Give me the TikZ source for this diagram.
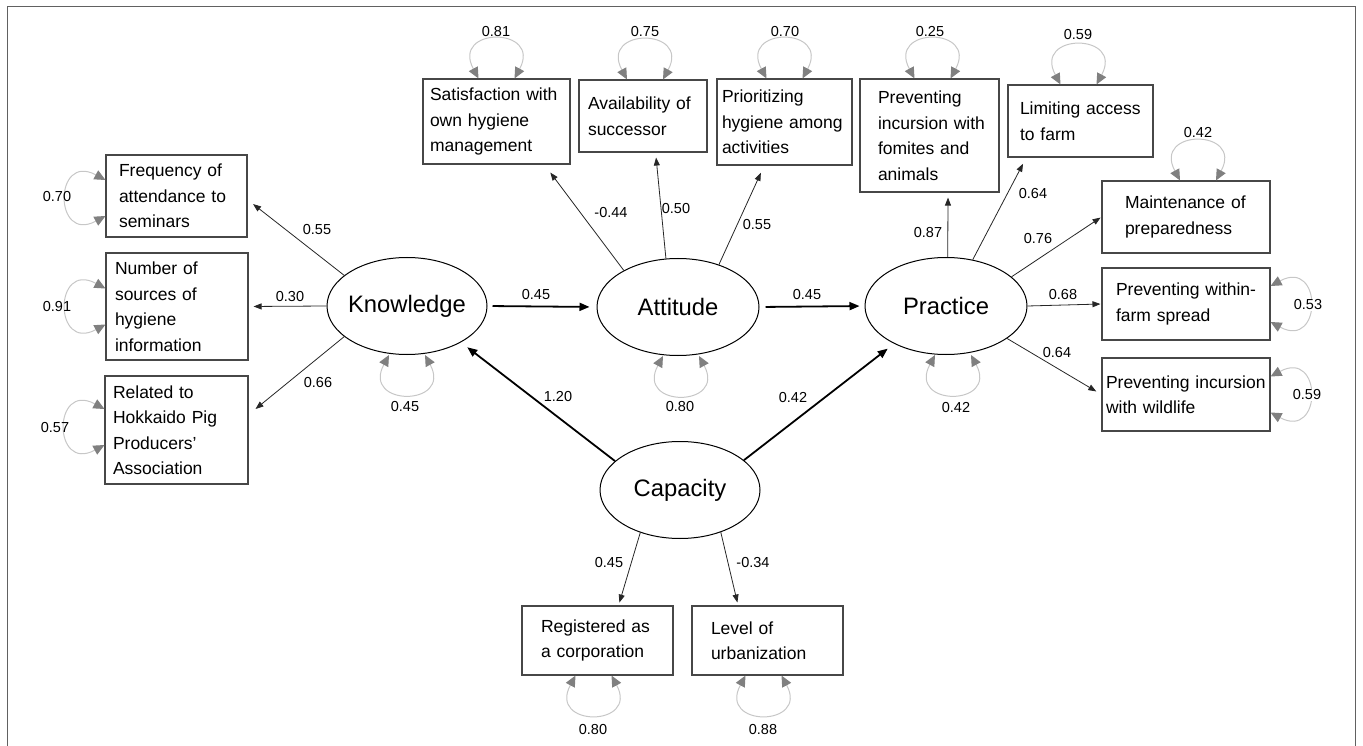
\documentclass[tikz,border=0pt]{standalone}
\usepackage{fontspec}
\setmainfont{Liberation Sans}
\usetikzlibrary{arrows.meta,shapes.geometric,calc}
\newcommand{\boxfont}{\fontsize{17.5}{25.5}\selectfont}
\newcommand{\latfont}{\fontsize{23.8}{28}\selectfont}
\newcommand{\numfont}{\fontsize{14.5}{17}\selectfont}
% self-loops (residual variances): #1 = offset along the edge, #2 = node name
\newcommand{\lpT}[2][0]{\draw[lp] ($(#2.north)+(#1-18,0)$) .. controls ($(#2.north)+(#1-46,-52)$) and ($(#2.north)+(#1+46,-52)$) .. ($(#2.north)+(#1+18,0)$);}
\newcommand{\lpB}[2][0]{\draw[lp] ($(#2.south)+(#1-18,0)$) .. controls ($(#2.south)+(#1-46,52)$) and ($(#2.south)+(#1+46,52)$) .. ($(#2.south)+(#1+18,0)$);}
\newcommand{\lpL}[2][0]{\draw[lp] ($(#2.west)+(0,#1-18)$) .. controls ($(#2.west)+(-52,#1-46)$) and ($(#2.west)+(-52,#1+46)$) .. ($(#2.west)+(0,#1+18)$);}
\newcommand{\lpR}[2][0]{\draw[lp] ($(#2.east)+(0,#1-18)$) .. controls ($(#2.east)+(52,#1-46)$) and ($(#2.east)+(52,#1+46)$) .. ($(#2.east)+(0,#1+18)$);}
\begin{document}
\begin{tikzpicture}[x=1pt,y=-1pt,
  obs/.style={draw=black!72,line width=1.1pt,rectangle,align=left,inner ysep=0pt,font=\boxfont,text=black},
  lat/.style={draw=black,line width=1pt,ellipse,minimum width=160pt,minimum height=97pt,inner sep=0pt,font=\latfont,text=black},
  path1/.style={draw=black!85,line width=0.8pt,-{Triangle[length=8pt,width=6pt]}},
  path2/.style={draw=black,line width=1.8pt,-{Triangle[length=10pt,width=8pt]}},
  lp/.style={draw=black!22,line width=1pt,{Triangle[length=11pt,width=10pt,color=black!50]}-{Triangle[length=11pt,width=10pt,color=black!50]}},
  num/.style={font=\numfont,inner sep=1pt,text=black},
  frame/.style={draw=black!62,line width=1.5pt}]
\useasboundingbox (0,0) rectangle (1363,746);
\draw[frame] (7.5,746) -- (7.5,6.5) -- (1355.5,6.5) -- (1355.5,746);

% latent variables
\node[lat] (know) at (407,306) {\makebox[0pt]{Knowledge}};
\node[lat,minimum width=162pt] (att) at (678,307) {\makebox[0pt]{Attitude}};
\node[lat,minimum width=162pt] (prac) at (946,306) {\makebox[0pt]{Practice}};
\node[lat] (cap) at (680,490) {\makebox[0pt]{Capacity}};

% observed variables
\node[obs,minimum height=82pt,text width=115pt,inner xsep=13pt] (freq) at (176.5,196) {Frequency~of\\attendance~to\\seminars};
\node[obs,minimum height=107pt,text width=124pt,inner xsep=9pt] (nsrc) at (177,306.5) {Number~of\\sources~of\\hygiene\\information};
\node[obs,minimum height=108pt,text width=127pt,inner xsep=8pt] (hppa) at (176.5,430) {Related~to\\Hokkaido~Pig\\Producers’\\Association};
\node[obs,minimum height=85pt,text width=133pt,inner xsep=7pt] (satis) at (496.5,121.5) {Satisfaction~with\\own~hygiene\\management};
\node[obs,minimum height=72pt,text width=110pt,inner xsep=9pt] (avail) at (643,116) {Availability~of\\successor};
\node[obs,minimum height=86pt,text width=125pt,inner xsep=5pt] (prior) at (784.5,122) {Prioritizing\\hygiene~among\\activities};
\node[obs,minimum height=113pt,text width=103pt,inner xsep=18pt] (fomit) at (929.5,135.5) {Preventing\\incursion~with\\fomites~and\\animals};
\node[obs,minimum height=72pt,text width=121pt,inner xsep=12pt] (limit) at (1080.5,121) {Limiting~access\\to~farm};
\node[obs,minimum height=72pt,text width=122pt,inner xsep=23pt] (maint) at (1186,217) {Maintenance~of\\preparedness};
\node[obs,minimum height=72pt,text width=140pt,inner xsep=14pt] (within) at (1186,304) {\mbox{Preventing within-}\\farm~spread};
\node[obs,minimum height=73pt,text width=160pt,inner xsep=4pt] (wild) at (1186,394.5) {\mbox{Preventing incursion}\\with~wildlife};
\node[obs,minimum height=69pt,text width=113pt,inner xsep=19pt] (regis) at (597.5,640.5) {Registered~as\\a~corporation};
\node[obs,minimum height=69pt,text width=113pt,inner xsep=19pt] (level) at (767.5,640.5) {Level~of\\urbanization};

% structural paths
\draw[path2,shorten <=5pt,shorten >=7pt] (know.east) -- (att.west);
\draw[path2,shorten <=6pt,shorten >=5pt] (att.east) -- (prac.west);
\draw[path2,shorten >=8pt] (cap.156) -- (know.-34);
\draw[path2,shorten >=8pt] (cap.25) -- (prac.-144);

% measurement paths
\draw[path1,shorten >=7pt] (know.154) -- (freq.-3);
\draw[path1,shorten >=5pt] (know.west) -- (nsrc.east);
\draw[path1,shorten >=9pt] (know.-154) -- (hppa.12);
\draw[path1,shorten >=10pt] (att.146) -- (satis.-42);
\draw[path1,shorten >=5pt] (att.104) -- (avail.-71);
\draw[path1,shorten >=8pt] (att.46) -- (prior.-115);
\draw[path1,shorten >=5pt] (prac.88) -- (fomit.-72);
\draw[path1,shorten >=7pt] (prac.60) -- (limit.-146);
\draw[path1,shorten >=1pt] (prac.24) -- (maint.west);
\draw[path1,shorten >=1pt] (prac.east) -- (within.west);
\draw[path1,shorten >=6pt] (prac.-28) -- (wild.west);
\draw[path1,shorten >=3pt] (cap.-133) -- (regis.59);
\draw[path1,shorten >=3pt] (cap.-46) -- (level.130);

% path coefficients
\node[num] (c1) at (317,230) {0.55};
\node[num] (c2) at (290,297) {0.30};
\node[num] (c3) at (318,383) {0.66};
\node[num] (c4) at (536,295) {0.45};
\node[num] (c5) at (807,295) {0.45};
\node[num] (c6) at (558,397) {1.20};
\node[num] (c7) at (793,398) {0.42};
\node[num] (c8) at (611,213) {-0.44};
\node[num] (c9) at (676,209) {0.50};
\node[num] (c10) at (757,225) {0.55};
\node[num] (c11) at (928,233) {0.87};
\node[num] (c12) at (1033,194) {0.64};
\node[num] (c13) at (1038,239) {0.76};
\node[num] (c14) at (1063,295) {0.68};
\node[num] (c15) at (1057,353) {0.64};
\node[num] (c16) at (609,563) {0.45};
\node[num] (c17) at (753,563) {-0.34};

% residual loops
\lpT{satis}
\lpT[2]{avail}
\lpT{prior}
\lpT[3]{fomit}
\lpT[-2]{limit}
\lpT[12]{maint}
\lpL[2]{freq}
\lpL{nsrc}
\lpL[-3]{hppa}
\lpR{within}
\lpR{wild}
\lpB{know}
\lpB[3]{att}
\lpB[7]{prac}
\lpB[-4]{regis}
\lpB[-4]{level}

% residual values
\node[num] (v1) at (496,32) {0.81};
\node[num] (v2) at (645,32) {0.75};
\node[num] (v3) at (785,32) {0.70};
\node[num] (v4) at (930,32) {0.25};
\node[num] (v5) at (1078,35) {0.59};
\node[num] (v6) at (1198,133) {0.42};
\node[num] (v7) at (57,197) {0.70};
\node[num] (v8) at (57,307) {0.91};
\node[num] (v9) at (55,428) {0.57};
\node[num,fill=white] (v10) at (1308,305) {0.53};
\node[num,fill=white] (v11) at (1307,395) {0.59};
\node[num] (v12) at (405,407) {0.45};
\node[num] (v13) at (680,407) {0.80};
\node[num] (v14) at (956,408) {0.42};
\node[num] (v15) at (593,730) {0.80};
\node[num] (v16) at (763,730) {0.88};
\end{tikzpicture}
\end{document}
